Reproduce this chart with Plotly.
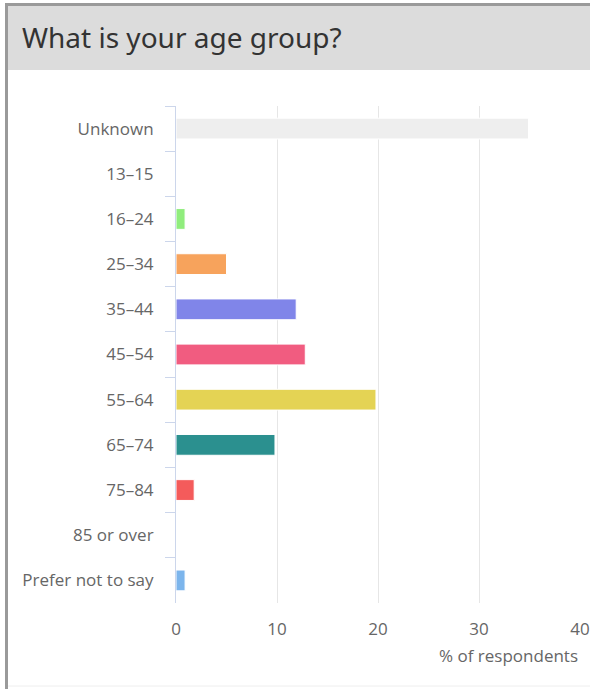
import plotly.graph_objects as go

categories = ["Unknown", "13–15", "16–24", "25–34", "35–44", "45–54",
              "55–64", "65–74", "75–84", "85 or over", "Prefer not to say"]
values = [34.9, 0, 0.9, 5.0, 11.9, 12.8, 19.8, 9.8, 1.8, 0, 0.9]
colors = ["#eeeeee", "#434348", "#90ed7d", "#f7a35c", "#8085e9", "#f15c80",
          "#e4d354", "#2b908f", "#f45b5b", "#91e8e1", "#7cb5ec"]
tick_vals = [0, 10, 20, 30, 40]
title_text = "What is your age group?"
axis_title = "% of respondents"

W, H = 590, 689
L, R, T, B = 176, 10, 106, 86
pw, ph = W - L - R, H - T - B

def px(x):
    return (x - L) / pw

def py(y):
    return (H - B - y) / ph

fig = go.Figure(go.Bar(
    x=values, y=categories, orientation="h",
    marker=dict(color=colors, line=dict(color="#ffffff", width=1)),
    hoverinfo="x+y",
))

shapes = [
    dict(type="rect", xref="paper", yref="paper", x0=px(8), x1=px(W), y0=py(70), y1=py(6),
         fillcolor="#dcdcdc", line=dict(width=0), layer="below"),
    dict(type="rect", xref="paper", yref="paper", x0=px(5), x1=px(W), y0=py(6), y1=py(3),
         fillcolor="#9a9a9a", line=dict(width=0), layer="below"),
    dict(type="rect", xref="paper", yref="paper", x0=px(5), x1=px(8), y0=py(H), y1=py(3),
         fillcolor="#9a9a9a", line=dict(width=0), layer="below"),
    dict(type="line", xref="paper", yref="paper", x0=px(8), x1=px(W), y0=py(686), y1=py(686),
         line=dict(color="#eeeeee", width=1), layer="below"),
]

fig.update_layout(
    width=W, height=H,
    margin=dict(l=L, r=R, t=T, b=B, autoexpand=False),
    paper_bgcolor="#ffffff", plot_bgcolor="#ffffff",
    showlegend=False,
    bargap=0.54,
    font=dict(family="Open Sans", color="#666666", size=17),
    title=dict(text=title_text, x=22 / W, xanchor="left", xref="container",
               y=1 - 38 / H, yanchor="middle", yref="container",
               font=dict(family="Noto Sans", size=28, color="#333333")),
    xaxis=dict(range=[0, 40], tickvals=tick_vals, showgrid=True, gridcolor="#e6e6e6",
               gridwidth=1, zeroline=False, showline=False, ticks="",
               tickfont=dict(size=17, color="#666666"), ticklabelstandoff=14,
               fixedrange=True),
    yaxis=dict(categoryorder="array", categoryarray=categories, autorange="reversed",
               showline=True, linecolor="#ccd6eb", linewidth=1,
               ticks="outside", tickson="boundaries", ticklen=10, tickcolor="#ccd6eb",
               showgrid=False, zeroline=False,
               tickfont=dict(size=17, color="#666666"), ticklabelstandoff=18,
               fixedrange=True),
    shapes=shapes,
    annotations=[dict(text=axis_title, xref="paper", yref="paper", x=1, y=py(655),
                      xanchor="right", yanchor="middle", showarrow=False,
                      font=dict(size=17, color="#666666"))],
)

fig.write_html("out.html", config={"displayModeBar": False},
               post_script="document.body.style.margin='0px';")
